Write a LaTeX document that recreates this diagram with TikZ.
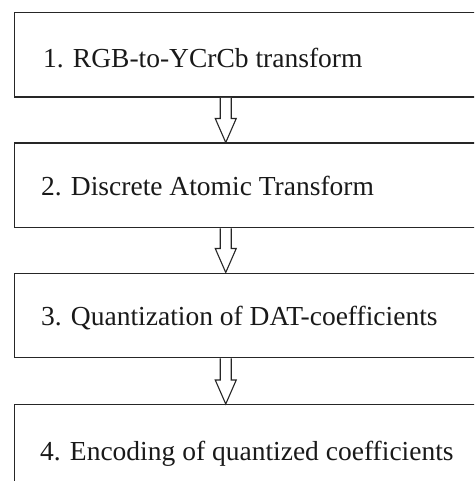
\documentclass[tikz,border=0pt]{standalone}
\usepackage{fontspec}
\setmainfont{Liberation Serif}
\usetikzlibrary{calc}
\tikzset{
  stepbox/.style={draw=black!85, line width=1.4pt, rectangle, anchor=north west,
    minimum width=480pt, minimum height=84.5pt, inner sep=0pt},
  steplabel/.style={anchor=base west, inner sep=0pt,
    font=\fontsize{27.5}{30}\selectfont, text=black!90},
  blockarrow/.style={draw=black!85, line width=1.1pt, fill=white, line join=miter},
}
% hollow block arrow from the bottom of #1 down to the top of #2
\newcommand{\hollowarrow}[2]{%
  \draw[blockarrow]
    ($(ax |- #1.south)+(-5.5,0)$) --
    ($(ax |- #2.north)+(-5.5,-24)$) --
    ($(ax |- #2.north)+(-10.5,-24)$) --
    (ax |- #2.north) --
    ($(ax |- #2.north)+(10.5,-24)$) --
    ($(ax |- #2.north)+(5.5,-24)$) --
    ($(ax |- #1.south)+(5.5,0)$);}
\begin{document}
\begin{tikzpicture}[x=1pt,y=-1pt]
  \useasboundingbox (0,0) rectangle (474,481);
  \clip (0,0) rectangle (474,481);

  % processing stages
  \node[stepbox] (b1) at (14,12) {};
  \node[stepbox] (b2) at (14,142.5) {};
  \node[stepbox] (b3) at (14,272.5) {};
  \node[stepbox] (b4) at (14,404) {};

  \node[steplabel] (t1) at (43,68) {1. RGB-to-YCrCb transform};
  \node[steplabel] (t2) at (41,195) {2. Discrete Atomic Transform};
  \node[steplabel] (t3) at (41,325) {3. Quantization of DAT-coefficients};
  \node[steplabel] (t4) at (40,460) {4. Encoding of quantized coefficients};

  % column of the connecting arrows
  \coordinate (ax) at (225.75,0);
  \hollowarrow{b1}{b2}
  \hollowarrow{b2}{b3}
  \hollowarrow{b3}{b4}
\end{tikzpicture}
\end{document}
